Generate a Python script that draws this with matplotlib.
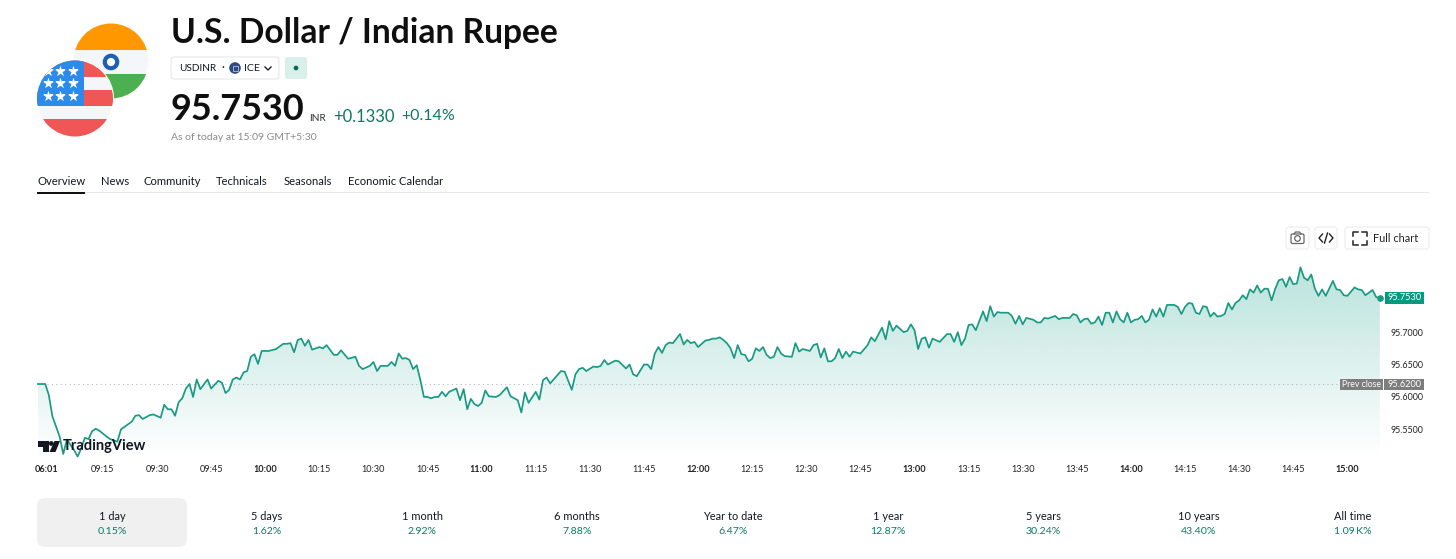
import matplotlib
matplotlib.use("Agg")
import matplotlib.pyplot as plt
import numpy as np
from matplotlib.patches import Circle, FancyBboxPatch, Polygon, Rectangle

W, H = 1456, 559
FONT = "Lato"
GREEN = "#089981"
DARK_GREEN = "#0b7a63"

bars = [0, 2, 3, 4, 6, 7, 8, 10, 11, 12, 13, 14, 15, 16, 17, 19, 20, 22, 23, 26, 27, 28, 29, 31, 32, 34,
        35, 36, 37, 38, 39, 40, 41, 42, 43, 44, 45, 47, 48, 50, 51, 52, 53, 54, 55, 56, 57, 58, 59, 60,
        61, 62, 64, 66, 68, 69, 70, 71, 72, 73, 74, 75, 76, 78, 79, 80, 82, 83, 84, 86, 88, 89, 90, 92,
        93, 94, 95, 97, 98, 99, 100, 101, 102, 103, 104, 105, 106, 107, 108, 109, 110, 111, 112, 113, 114,
        116, 117, 118, 119, 120, 121, 122, 123, 124, 125, 127, 128, 130, 131, 133, 134, 135, 136, 138, 139,
        140, 141, 142, 145, 146, 148, 149, 150, 151, 152, 154, 155, 156, 157, 158, 160, 161, 163, 164, 165,
        166, 168, 169, 170, 171, 172, 173, 174, 175, 176, 178, 179, 180, 181, 182, 183, 185, 186, 187, 188,
        189, 190, 191, 192, 193, 194, 195, 196, 197, 198, 199, 200, 201, 202, 203, 204, 205, 206, 207, 209,
        210, 211, 212, 214, 215, 216, 217, 218, 219, 220, 221, 222, 223, 224, 225, 226, 228, 230, 231, 232,
        234, 235, 236, 237, 238, 240, 241, 242, 243, 244, 245, 246, 247, 248, 250, 252, 253, 254, 255, 256,
        257, 258, 259, 260, 262, 263, 264, 265, 266, 267, 269, 270, 271, 272, 273, 274, 276, 277, 278, 279,
        280, 282, 283, 284, 286, 287, 288, 289, 290, 291, 292, 293, 294, 295, 296, 297, 298, 299, 300, 301,
        302, 303, 304, 305, 306, 307, 308, 309, 310, 311, 312, 313, 315, 316, 317, 318, 319, 320, 321, 322,
        323, 324, 325, 326, 327, 328, 329, 330, 331, 332, 333, 334, 335, 336, 337, 338, 339, 340, 341, 342,
        343, 344, 345, 346, 347, 348, 349, 350, 351, 352, 353, 354, 355, 356, 357, 359, 360, 361, 362, 363,
        365, 366, 367, 368, 370, 371, 372]

rates = [95.620, 95.620, 95.603, 95.570, 95.539, 95.512, 95.534, 95.518, 95.508, 95.521, 95.537, 95.535, 95.547,
         95.551, 95.548, 95.539, 95.535, 95.531, 95.550, 95.562, 95.571, 95.572, 95.566, 95.572, 95.573, 95.568,
         95.588, 95.581, 95.581, 95.571, 95.592, 95.598, 95.613, 95.620, 95.600, 95.627, 95.612, 95.627, 95.613,
         95.625, 95.622, 95.606, 95.611, 95.627, 95.630, 95.627, 95.638, 95.640, 95.662, 95.666, 95.651, 95.671,
         95.671, 95.674, 95.682, 95.682, 95.683, 95.669, 95.688, 95.690, 95.679, 95.688, 95.673, 95.677, 95.675,
         95.680, 95.665, 95.665, 95.672, 95.659, 95.662, 95.648, 95.643, 95.648, 95.654, 95.640, 95.648, 95.648,
         95.654, 95.648, 95.667, 95.659, 95.660, 95.657, 95.643, 95.649, 95.626, 95.600, 95.600, 95.598, 95.600,
         95.600, 95.608, 95.601, 95.608, 95.613, 95.595, 95.612, 95.581, 95.597, 95.589, 95.586, 95.591, 95.610,
         95.601, 95.600, 95.603, 95.615, 95.601, 95.595, 95.576, 95.607, 95.591, 95.608, 95.596, 95.626, 95.630,
         95.621, 95.640, 95.639, 95.611, 95.635, 95.643, 95.645, 95.640, 95.647, 95.646, 95.648, 95.657, 95.650,
         95.656, 95.655, 95.644, 95.650, 95.635, 95.632, 95.650, 95.650, 95.643, 95.667, 95.677, 95.668, 95.680,
         95.684, 95.683, 95.697, 95.681, 95.688, 95.683, 95.685, 95.677, 95.687, 95.688, 95.690, 95.690, 95.692,
         95.688, 95.683, 95.675, 95.660, 95.680, 95.666, 95.665, 95.655, 95.659, 95.675, 95.671, 95.677, 95.665,
         95.660, 95.662, 95.677, 95.667, 95.663, 95.662, 95.683, 95.670, 95.674, 95.671, 95.680, 95.682, 95.661,
         95.675, 95.655, 95.655, 95.660, 95.674, 95.660, 95.670, 95.662, 95.670, 95.667, 95.680, 95.692, 95.686,
         95.707, 95.689, 95.717, 95.702, 95.710, 95.700, 95.702, 95.712, 95.703, 95.674, 95.690, 95.692, 95.676,
         95.690, 95.685, 95.697, 95.697, 95.685, 95.700, 95.680, 95.690, 95.711, 95.712, 95.703, 95.732, 95.717,
         95.740, 95.724, 95.731, 95.730, 95.730, 95.725, 95.713, 95.725, 95.712, 95.722, 95.719, 95.715, 95.715,
         95.722, 95.721, 95.725, 95.720, 95.722, 95.722, 95.728, 95.726, 95.715, 95.720, 95.721, 95.713, 95.715,
         95.724, 95.711, 95.730, 95.730, 95.715, 95.732, 95.720, 95.715, 95.730, 95.715, 95.719, 95.720, 95.725,
         95.715, 95.719, 95.735, 95.724, 95.737, 95.724, 95.742, 95.742, 95.739, 95.728, 95.739, 95.745, 95.744,
         95.730, 95.728, 95.740, 95.739, 95.724, 95.730, 95.724, 95.725, 95.728, 95.745, 95.735, 95.745, 95.749,
         95.757, 95.751, 95.766, 95.761, 95.772, 95.761, 95.767, 95.767, 95.749, 95.767, 95.780, 95.782, 95.770,
         95.785, 95.774, 95.775, 95.800, 95.784, 95.780, 95.789, 95.767, 95.756, 95.766, 95.756, 95.779, 95.766,
         95.765, 95.757, 95.756, 95.769, 95.766, 95.765, 95.757, 95.765, 95.754, 95.753]

prev_close = 95.62
last_price = 95.753

time_bars = [2.5, 18, 33, 48, 63, 78, 93, 108, 123, 138, 153, 168, 183, 198, 213, 228, 243, 258, 273, 288, 303,
             318, 333, 348, 363]
time_labels = ["06:01", "09:15", "09:30", "09:45", "10:00", "10:15", "10:30", "10:45", "11:00", "11:15", "11:30",
               "11:45", "12:00", "12:15", "12:30", "12:45", "13:00", "13:15", "13:30", "13:45", "14:00", "14:15",
               "14:30", "14:45", "15:00"]
bold_labels = ["06:01", "10:00", "11:00", "12:00", "13:00", "14:00", "15:00"]
price_ticks = [95.55, 95.60, 95.65, 95.70]

tabs = ["Overview", "News", "Community", "Technicals", "Seasonals", "Economic Calendar"]
tab_x = [37, 101, 143, 216, 284, 348]

periods = ["1 day", "5 days", "1 month", "6 months", "Year to date", "1 year", "5 years", "10 years", "All time"]
period_changes = ["0.15%", "1.62%", "2.92%", "7.88%", "6.47%", "12.87%", "30.24%", "43.40%", "1.09\u2009K%"]
period_x = [112, 267, 422, 577, 733, 888, 1043, 1199, 1353]


def add_box(ax, x0, y0, x1, y1, face, edge="none", r=3, lw=0.8):
    box = FancyBboxPatch((x0 + r, y0 + r), x1 - x0 - 2 * r, y1 - y0 - 2 * r,
                         boxstyle=f"round,pad={r},rounding_size={r}", fc=face, ec=edge, lw=lw)
    ax.add_patch(box)
    return box


def label(ax, x, y, s, px, color="#131722", ha="left", weight="normal"):
    ax.text(x, y, s, fontsize=px * 0.72, color=color, ha=ha, va="center", fontweight=weight,
            family=[FONT, "DejaVu Sans"])


def draw_flags(ax):
    india = Circle((111, 61), 37.5, transform=ax.transData)
    for y0, y1, c in [(20, 50, "#ff9800"), (50, 74, "#f5f6fa"), (74, 100, "#4caf50")]:
        r = Rectangle((70, y0), 82, y1 - y0, fc=c, ec="none")
        ax.add_patch(r)
        r.set_clip_path(india)
    ax.add_patch(Circle((111, 62), 6.2, fc="white", ec="#1c5fb4", lw=3))

    usa = Circle((75, 98.5), 38, transform=ax.transData)
    stripes = [(60, 77, "#f05656"), (77, 90, "#f5f6fa"), (90, 106, "#f05656"), (106, 119, "#f5f6fa"),
               (119, 137, "#f05656")]
    ax.add_patch(Circle((75, 98.5), 39, fc="white", ec="none"))
    for y0, y1, c in stripes:
        r = Rectangle((36, y0), 80, y1 - y0, fc=c, ec="none")
        ax.add_patch(r)
        r.set_clip_path(usa)
    r = Rectangle((36, 60), 47.5, 46, fc="#2c8ae8", ec="none")
    ax.add_patch(r)
    r.set_clip_path(usa)
    star_x, star_y = np.meshgrid([48, 60, 73], [71, 83, 96])
    stars = ax.scatter(star_x.ravel(), star_y.ravel(), s=70, marker="*", c="white", linewidths=0)
    stars.set_clip_path(usa)


def draw_header(ax):
    draw_flags(ax)
    label(ax, 171, 33, "U.S. Dollar / Indian Rupee", 33.6, color="#0f0f0f", weight="bold")

    add_box(ax, 171, 57, 279, 79, "white", "#e6e6e6")
    label(ax, 179, 68.5, "USDINR", 10)
    label(ax, 221, 68, "\u00b7", 11)
    ax.add_patch(Circle((235, 68), 5.8, fc="#2f4a7d", ec="none"))
    ax.add_patch(Rectangle((232.5, 65.5), 5, 5, fc="none", ec="#9db3d8", lw=0.7))
    label(ax, 244, 68.5, "ICE", 10.5)
    ax.plot([265, 268, 271], [67, 70, 67], color="#222222", lw=1)
    add_box(ax, 285, 57, 307, 79, "#d9efea")
    ax.add_patch(Circle((296, 68), 2.4, fc="#0b6b57", ec="none"))

    label(ax, 171, 109, "95.7530", 36, color="#0f0f0f", weight="bold")
    label(ax, 309, 118.5, "INR", 10, color="#333333")
    label(ax, 333, 116.5, "+0.1330", 16.5, color=DARK_GREEN)
    label(ax, 401, 116.5, "+0.14%", 16, color=DARK_GREEN)
    label(ax, 171, 138, "As of today at 15:09 GMT+5:30", 10.4, color="#8a8a8a")

    for x, s in zip(tab_x, tabs):
        label(ax, x, 181.5, s, 11.2, color="#131722")
    ax.add_patch(Rectangle((37, 192), 1392, 1.3, fc="#e8e8e8", ec="none"))
    ax.add_patch(Rectangle((37, 192), 48, 2, fc="#111111", ec="none"))


def draw_buttons(ax):
    add_box(ax, 1286, 227, 1309, 249, "white", "#ececec")
    add_box(ax, 1315, 227, 1337, 249, "white", "#ececec")
    add_box(ax, 1345, 227, 1429, 249, "white", "#ececec")

    add_box(ax, 1291, 234, 1304, 243.5, "none", "#666666", r=1.5, lw=0.9)
    ax.add_patch(Circle((1297.5, 238.5), 2.8, fc="none", ec="#666666", lw=0.9))
    ax.plot([1294, 1295.5, 1299.5, 1301], [234, 232, 232, 234], color="#666666", lw=0.9)

    ax.plot([1322.5, 1319, 1322.5], [234, 238, 242], color="#222222", lw=1)
    ax.plot([1329.5, 1333, 1329.5], [234, 238, 242], color="#222222", lw=1)
    ax.plot([1327.5, 1324.5], [233, 243], color="#222222", lw=1)

    for xs, ys in [([1353, 1353, 1358], [236, 232, 232]), ([1362, 1367, 1367], [232, 232, 236]),
                   ([1353, 1353, 1358], [241, 245, 245]), ([1362, 1367, 1367], [245, 245, 241])]:
        ax.plot(xs, ys, color="#222222", lw=1.1)
    label(ax, 1373, 238.5, "Full chart", 11, color="#222222")


def draw_logo(ax):
    ax.add_patch(Polygon([(38, 441), (48.5, 441), (48.5, 452), (43, 452), (43, 447), (38, 447)], fc="#131722", ec="none"))
    ax.add_patch(Circle((51.3, 443.5), 2.4, fc="#131722", ec="none"))
    ax.add_patch(Polygon([(54.5, 441), (60, 441), (55.5, 452), (49.5, 452)], fc="#131722", ec="none"))
    label(ax, 63, 446, "TradingView", 14.6, color="#131722", weight="bold")


def draw_periods(ax):
    add_box(ax, 37, 498, 187, 547, "#f0f0f0", r=8)
    for x, name, change in zip(period_x, periods, period_changes):
        label(ax, x, 516, name, 11, color="#131722", ha="center")
        label(ax, x, 532, change, 10.5, color=DARK_GREEN, ha="center")


fig = plt.figure(figsize=(W / 100, H / 100), dpi=100, facecolor="white")

# chart axes, placed in pixels: 38 + 3.607 px per bar, 32.4 px per 0.05
left, right, top, bottom = 37, 1381, 225, 458
ax = fig.add_axes([left / W, 1 - bottom / H, (right - left) / W, (bottom - top) / H])
ax.set_xlim((left - 38) / 3.607, (right - 38) / 3.607)
ax.set_ylim(95.62 - (bottom - 384) * 0.001543, 95.62 + (384 - top) * 0.001543)
for s in ax.spines.values():
    s.set_visible(False)
ax.patch.set_alpha(0)

line_top = max(rates)
grad = np.zeros((256, 1, 4))
grad[..., 0] = 8 / 255
grad[..., 1] = 153 / 255
grad[..., 2] = 129 / 255
grad[..., 3] = np.linspace(0.28, 0.0, 256).reshape(-1, 1)
img = ax.imshow(grad, extent=[bars[0], bars[-1], ax.get_ylim()[0], line_top], aspect="auto", zorder=1,
                interpolation="bilinear")
ax.set_xlim((left - 38) / 3.607, (right - 38) / 3.607)
ax.set_ylim(95.62 - (bottom - 384) * 0.001543, 95.62 + (384 - top) * 0.001543)
area = ax.fill_between(bars, rates, ax.get_ylim()[0], color="none", lw=0)
clip = area.get_paths()[0]
img.set_clip_path(clip, transform=ax.transData)

ax.plot([bars[0], 362], [prev_close, prev_close], color="#b5b8bd", lw=0.8, ls=(0, (1, 3)), zorder=2)
ax.plot(bars, rates, color="#1a9a84", lw=1.25, zorder=3, solid_joinstyle="round")
ax.plot(bars[-1], last_price, "o", color="#1a9a84", ms=3.8, zorder=4, clip_on=False)

ax.set_xticks(time_bars)
ax.set_xticklabels(time_labels, fontsize=6.6, family=FONT, color="#222222")
for t in ax.get_xticklabels():
    if t.get_text() in bold_labels:
        t.set_fontweight("bold")
ax.yaxis.tick_right()
ax.set_yticks(price_ticks)
ax.set_yticklabels([f"{v:.4f}" for v in price_ticks], fontsize=6.4, family=FONT, color="#222222")
ax.tick_params(axis="both", length=0)
ax.tick_params(axis="x", pad=5)
ax.tick_params(axis="y", pad=7)

# everything around the chart goes on a pixel overlay
over = fig.add_axes([0, 0, 1, 1], facecolor="none")
over.set_xlim(0, W)
over.set_ylim(H, 0)
over.axis("off")
draw_header(over)
draw_buttons(over)
draw_logo(over)
draw_periods(over)

over.add_patch(Rectangle((1385, 292), 39, 11.5, fc=GREEN, ec="none"))
label(over, 1404.5, 298, "95.7530", 9.2, color="white", ha="center")
over.add_patch(Rectangle((1340, 378.5), 43, 11, fc="#7d7d7d", ec="none"))
label(over, 1361.5, 384.3, "Prev close", 8.6, color="white", ha="center")
over.add_patch(Rectangle((1384, 378.5), 40, 11, fc="#7d7d7d", ec="none"))
label(over, 1404, 384.3, "95.6200", 9.2, color="white", ha="center")

fig.savefig("out.png", dpi=100, facecolor="white")
